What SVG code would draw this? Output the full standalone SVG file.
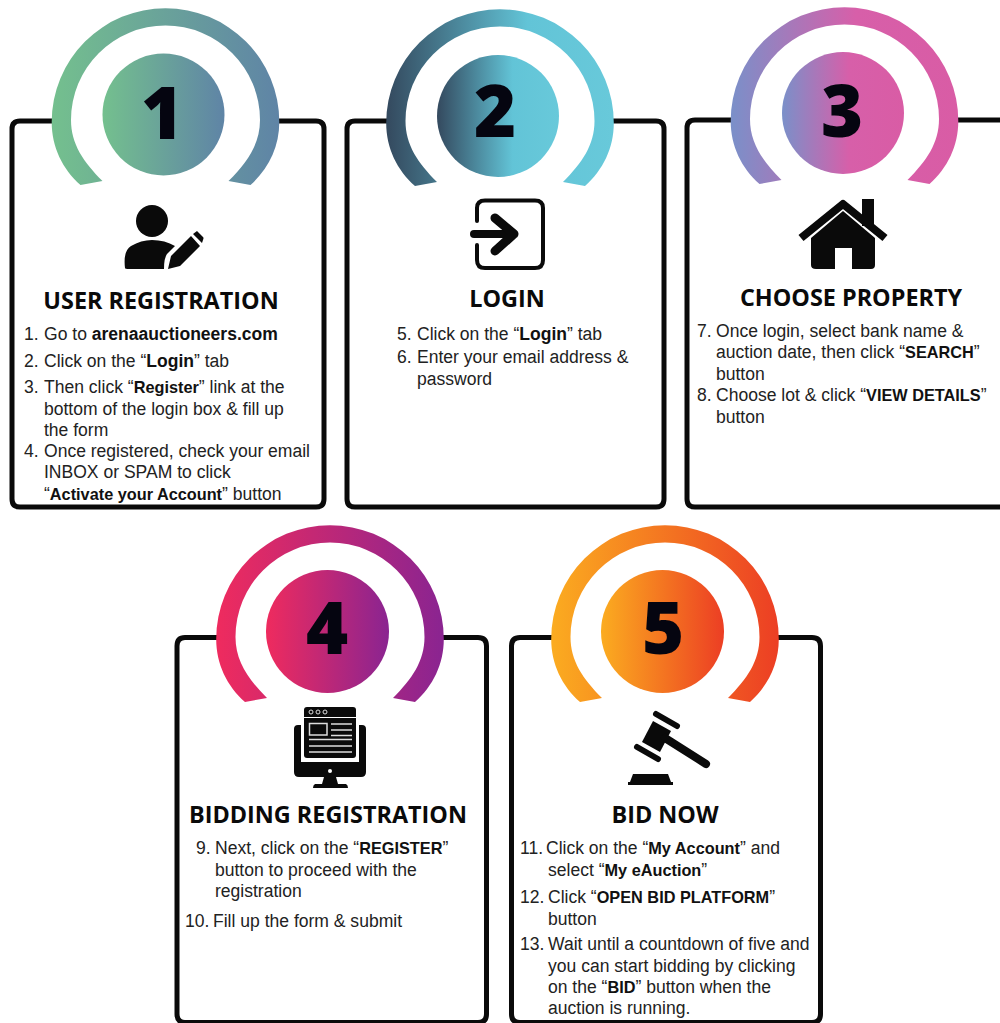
<svg xmlns="http://www.w3.org/2000/svg" width="1000" height="1023" viewBox="0 0 1000 1023">
<style>
.box{fill:none;stroke:#0a0a0a;stroke-width:5;stroke-linejoin:round}
.t{font-family:"Liberation Sans",Arial,sans-serif;font-size:17.55px;fill:#222}
.t tspan.b,.b{font-weight:700;fill:#111}
.t tspan.s{font-weight:700;fill:#111;font-size:16.3px}
.h{font-family:"Open Sans","Noto Sans",sans-serif;font-weight:700;font-size:23.4px;fill:#0a0a0a;text-anchor:middle}
.n{font-family:"Open Sans","Noto Sans",sans-serif;font-weight:800;font-size:72px;fill:#050510;text-anchor:middle}
.i{fill:#0a0a0a}
.l{fill:none;stroke:#0a0a0a;stroke-linecap:round;stroke-linejoin:round}
.w{fill:none;stroke:#ddd;stroke-width:1.5}
</style>
<defs>
<linearGradient id="g1"><stop offset="0" stop-color="#74c08e"/><stop offset="1" stop-color="#5f84a6"/></linearGradient>
<linearGradient id="g2"><stop offset="0" stop-color="#34495e"/><stop offset=".62" stop-color="#62c4d7"/><stop offset="1" stop-color="#68c9da"/></linearGradient>
<linearGradient id="g3"><stop offset="0" stop-color="#7a90c9"/><stop offset=".55" stop-color="#d75fa9"/><stop offset="1" stop-color="#d95ca5"/></linearGradient>
<linearGradient id="g4"><stop offset="0" stop-color="#ef2b5e"/><stop offset="1" stop-color="#8a2491"/></linearGradient>
<linearGradient id="g5"><stop offset="0" stop-color="#fbac20"/><stop offset=".55" stop-color="#f37021"/><stop offset="1" stop-color="#ec3e24"/></linearGradient>
<path id="ring" d="M-85,63C-103,47-113.8,25-113.8,0A113.8,113.8 0 0 1 113.8,0C113.8,25 103,47 85,63L63,59C82,40 94.5,22 94.5,-2A94.5,94.5 0 0 0 -94.5,-2C-94.5,22-82,40-63,59Z"/>
</defs>
<rect width="1000" height="1023" fill="#fff"/>

<g id="node-1">
<path class="box" d="M53,121H20Q12,121 12,129V499Q12,507 20,507H316Q324,507 324,499V129Q324,121 316,121H278"/>
<use href="#ring" x="165.5" y="122" fill="url(#g1)"/>
<circle cx="163.5" cy="114.5" r="61" fill="url(#g1)"/>
<text class="n" x="162" y="139">1</text>
<g id="icon-user">
<circle class="i" cx="152" cy="221" r="16"/>
<path class="i" d="M125,268Q123,251 131,246Q141,240 152,240Q165,240 175,246L167,254Q164,258 164,269H129Q125,269 125,268Z"/>
<path class="i" d="M168,269L171,256L191,236L200,246L180,266ZM193,234L197,231Q198,232 203,237Q204,238 203,240L202,243Z"/>
</g>
<text class="h" x="161" y="309">USER REGISTRATION</text>
<text class="t" x="24" y="340">1.</text><text class="t" x="44" y="340">Go to <tspan class="b">arenaauctioneers.com</tspan></text>
<text class="t" x="24" y="367">2.</text><text class="t" x="44" y="367">Click on the “<tspan class="b">Login</tspan>” tab</text>
<text class="t" x="24" y="393">3.</text><text class="t" x="44" y="393">Then click “<tspan class="s">Register</tspan>” link at the</text>
<text class="t" x="44" y="415">bottom of the login box &amp; fill up</text>
<text class="t" x="44" y="436">the form</text>
<text class="t" x="24" y="457">4.</text><text class="t" x="44" y="457">Once registered, check your email</text>
<text class="t" x="44" y="478">INBOX or SPAM to click</text>
<text class="t" x="44" y="500">“<tspan class="s">Activate your Account</tspan>” button</text>
</g>

<g id="node-2">
<path class="box" d="M387,121H355Q347,121 347,129V499Q347,507 355,507H656Q664,507 664,499V129Q664,121 656,121H613"/>
<use href="#ring" x="500" y="123" fill="url(#g2)"/>
<circle cx="498" cy="116" r="61" fill="url(#g2)"/>
<text class="n" x="495" y="137">2</text>
<g id="icon-login">
<path class="l" stroke-width="4" d="M477,221V208Q477,200.500 485,200.500H535Q543,200.500 543,208V260Q543,268 535,268H485Q477,268 477,260V245"/>
<path class="l" stroke-width="8" d="M474,234H512"/>
<path class="l" stroke-width="9" d="M495,218L514,234L495,251"/>
</g>
<text class="h" x="507" y="307">LOGIN</text>
<text class="t" x="397" y="340">5.</text><text class="t" x="417" y="340">Click on the “<tspan class="b">Login</tspan>” tab</text>
<text class="t" x="397" y="363">6.</text><text class="t" x="417" y="363">Enter your email address &amp;</text>
<text class="t" x="417" y="385">password</text>
</g>

<g id="node-3">
<path class="box" d="M732,120H695Q687,120 687,128V499Q687,507 695,507H1010M957,120H1010"/>
<use href="#ring" x="844.500" y="121" fill="url(#g3)"/>
<circle cx="843" cy="113" r="61" fill="url(#g3)"/>
<text class="n" x="842" y="137">3</text>
<g id="icon-home">
<path class="i" d="M862,199H874V226H862Z"/>
<path class="l" stroke-width="8" style="stroke-linecap:butt" d="M801,238L843,204L885,238"/>
<path class="i" d="M843,211L875,238V265Q875,269 871,269H852V248H835V269H816Q811,269 811,265V238Z"/>
</g>
<text class="h" x="851" y="306">CHOOSE PROPERTY</text>
<text class="t" x="697" y="337">7.</text><text class="t" x="716" y="337">Once login, select bank name &amp;</text>
<text class="t" x="716" y="358">auction date, then click “<tspan class="s">SEARCH</tspan>”</text>
<text class="t" x="716" y="380">button</text>
<text class="t" x="697" y="401">8.</text><text class="t" x="716" y="401">Choose lot &amp; click “<tspan class="s">VIEW DETAILS</tspan>”</text>
<text class="t" x="716" y="423">button</text>
</g>

<g id="node-4">
<path class="box" d="M217,637.500H185Q177,637.500 177,646V1014Q177,1022.500 185,1022.500H478Q486.500,1022.500 486.500,1014V646Q486.500,637.500 478,637.500H443"/>
<use href="#ring" x="330" y="639" fill="url(#g4)"/>
<circle cx="327.500" cy="631.500" r="61.500" fill="url(#g4)"/>
<text class="n" x="327" y="654">4</text>
<g id="icon-web">
<path class="i" fill-rule="evenodd" d="M298,725H301V762H359V725H362Q366,725 366,729V772Q366,777 361,777H299Q294,777 294,772V729Q294,725 298,725Z"/>
<path class="i" d="M324,777H336L338,784H346Q348,785 348,788H313Q313,785 315,784H322Z"/>
<rect class="i" x="304" y="707" width="52" height="51" rx="3"/>
<circle cx="330" cy="771" r="2" fill="#fff"/>
<path d="M304,717.500H356" stroke="#fff" stroke-width="1.200"/>
<g fill="none" stroke="#ddd" stroke-width="1"><circle cx="311" cy="712" r="2"/><circle cx="318" cy="712" r="2"/><circle cx="325" cy="712" r="2"/></g>
<rect class="w" x="309.500" y="723.500" width="17.500" height="11.500"/>
<path class="w" d="M331,724H352M331,730H352M331,735.500H352M309,739.500H352M309,746H352M309,752H352"/>
</g>
<text class="h" x="328" y="823">BIDDING REGISTRATION</text>
<text class="t" x="196" y="854">9.</text><text class="t" x="215" y="854">Next, click on the “<tspan class="s">REGISTER</tspan>”</text>
<text class="t" x="215" y="876">button to proceed with the</text>
<text class="t" x="215" y="897">registration</text>
<text class="t" x="185" y="927">10.</text><text class="t" x="213" y="927">Fill up the form &amp; submit</text>
</g>

<g id="node-5">
<path class="box" d="M552,637.500H520Q511.500,637.500 511.500,646V1014Q511.500,1022.500 520,1022.500H812Q820.500,1022.500 820.500,1014V646Q820.500,637.500 812,637.500H778"/>
<use href="#ring" x="665" y="639" fill="url(#g5)"/>
<circle cx="662.500" cy="631.500" r="61.500" fill="url(#g5)"/>
<text class="n" x="663" y="654">5</text>
<g id="icon-gavel">
<path class="l" stroke-width="6" d="M656,714L677,726M637,747L658,759"/>
<path class="i" d="M653,721L671,731L660,752L642,742Z"/>
<path class="l" stroke-width="8" d="M665,738L706,764"/>
<path class="i" d="M633,774H668L671,782H673V785H628V782H630Z"/>
</g>
<text class="h" x="665" y="823">BID NOW</text>
<text class="t" x="520" y="854">11.</text><text class="t" x="546" y="854">Click on the “<tspan class="s">My Account</tspan>” and</text>
<text class="t" x="548" y="876">select “<tspan class="s">My eAuction</tspan>”</text>
<text class="t" x="520" y="903">12.</text><text class="t" x="548" y="903">Click “<tspan class="s">OPEN BID PLATFORM</tspan>”</text>
<text class="t" x="548" y="925">button</text>
<text class="t" x="520" y="950">13.</text><text class="t" x="548" y="950">Wait until a countdown of five and</text>
<text class="t" x="548" y="972">you can start bidding by clicking</text>
<text class="t" x="548" y="993">on the “<tspan class="s">BID</tspan>” button when the</text>
<text class="t" x="548" y="1014">auction is running.</text>
</g>
</svg>
